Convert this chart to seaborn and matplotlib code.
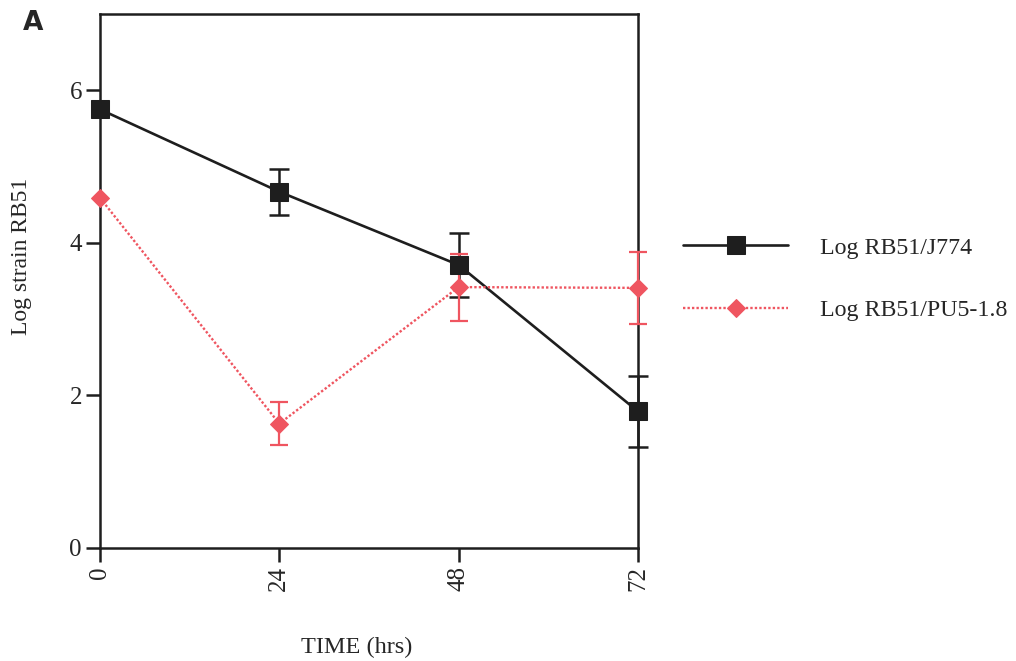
import numpy as np
import pandas as pd
import seaborn as sns
import matplotlib.pyplot as plt

# ---- data ----
time_hrs = [0, 24, 48, 72]
j774_mean = [5.75, 4.67, 3.71, 1.79]
j774_err = [0.0, 0.30, 0.42, 0.47]
pu5_mean = [4.59, 1.63, 3.42, 3.41]
pu5_err = [0.0, 0.28, 0.44, 0.47]
series_labels = ["Log RB51/J774", "Log RB51/PU5-1.8"]
x_ticks = [0, 24, 48, 72]
y_ticks = [0, 2, 4, 6]

sns.set_theme(style="ticks")
plt.rcParams['font.family'] = ['Liberation Serif', 'DejaVu Serif']

BLACK = '#1e1e1e'
RED = '#ef5560'

fig = plt.figure(figsize=(10.16, 6.61), dpi=100)
ax = fig.add_axes([100/1016, 1 - 548/661, 538/1016, (548 - 14)/661])

df = pd.DataFrame({
    'time': time_hrs * 2,
    'value': j774_mean + pu5_mean,
    'series': [series_labels[0]] * 4 + [series_labels[1]] * 4,
})

# error bars (drawn under markers)
ax.errorbar(time_hrs[1:], pu5_mean[1:], yerr=pu5_err[1:], fmt='none',
            ecolor=RED, elinewidth=1.6, capsize=6.5, capthick=1.6,
            zorder=3, clip_on=False)
ax.errorbar(time_hrs[1:], j774_mean[1:], yerr=j774_err[1:], fmt='none',
            ecolor=BLACK, elinewidth=1.8, capsize=7, capthick=1.8,
            zorder=2, clip_on=False)

sns.lineplot(data=df[df.series == series_labels[0]], x='time', y='value',
             ax=ax, color=BLACK, marker='s', markersize=13,
             markeredgecolor=BLACK, linewidth=1.9, label=series_labels[0],
             zorder=4, clip_on=False)
sns.lineplot(data=df[df.series == series_labels[1]], x='time', y='value',
             ax=ax, color=RED, marker='D', markersize=9.5,
             markeredgecolor=RED, linewidth=1.7, linestyle=(0, (1, 0.9)),
             label=series_labels[1], zorder=5, clip_on=False)

ax.set_xlim(0, 72)
ax.set_ylim(0, 7)
ax.set_xticks(x_ticks)
ax.set_xticklabels([str(t) for t in x_ticks], rotation=90, fontsize=18)
ax.set_yticks(y_ticks)
ax.set_yticklabels([str(t) for t in y_ticks], fontsize=18)
ax.tick_params(axis='both', direction='out', length=10, width=1.8, color=BLACK,
               pad=3)

for s in ax.spines.values():
    s.set_linewidth(1.8)
    s.set_color(BLACK)
    s.set_visible(True)

ax.set_xlabel('TIME (hrs)', fontsize=17.5)
ax.set_ylabel('Log strain RB51', fontsize=17)
ax.xaxis.set_label_coords(0.478, -0.167)
ax.yaxis.set_label_coords(-0.126, 0.547)

leg = ax.legend(loc='center left', bbox_to_anchor=(683/1016, 1 - 279/661),
                bbox_transform=fig.transFigure, frameon=False, fontsize=17.2,
                handlelength=4.4, handletextpad=1.35, labelspacing=1.7,
                borderpad=0, borderaxespad=0)

fig.text(33/1016, 1 - 23/661, 'A', fontsize=19, fontweight='bold',
         family='DejaVu Sans', ha='center', va='center')

fig.savefig('out.png', dpi=100)
